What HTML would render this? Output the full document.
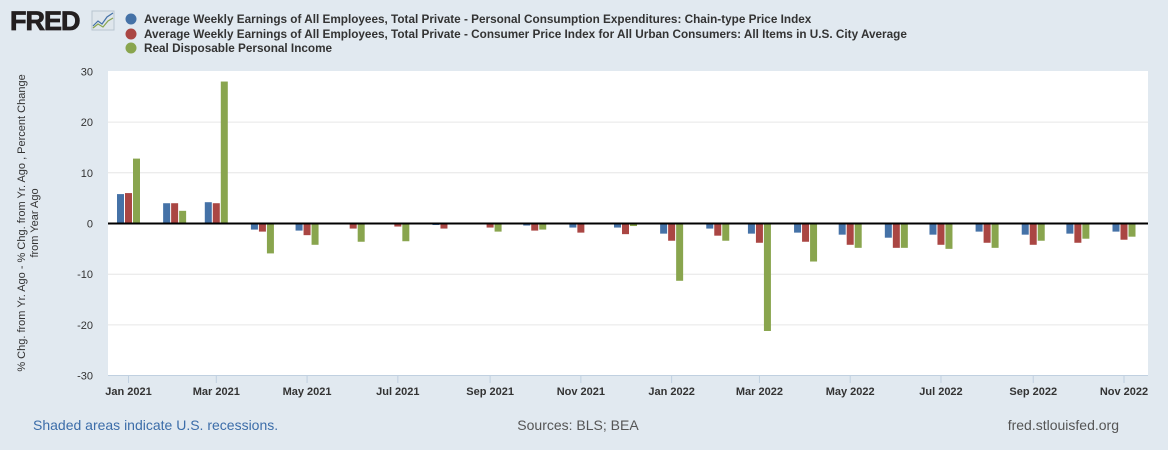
<!DOCTYPE html>
<html><head><meta charset="utf-8"><style>
body{margin:0;background:#e1e9f0;font-family:"Liberation Sans",sans-serif;}
</style></head><body>
<svg width="1168" height="450" xmlns="http://www.w3.org/2000/svg" style="display:block">
<rect width="1168" height="450" fill="#e1e9f0"/>
<g>
<text x="10" y="30" font-size="27" font-weight="bold" fill="#231f20" font-family="Liberation Sans" letter-spacing="-1" stroke="#231f20" stroke-width="0.8">FRED</text>
<rect x="92" y="11" width="22" height="19" fill="#dfe6ec" stroke="#b9c5cf"/>
<polyline points="93,26 98,21 102,24 107,17 113,13" fill="none" stroke="#4572a7" stroke-width="1.2"/>
<polyline points="93,28 98,24 103,27 108,21 113,18" fill="none" stroke="#89a54e" stroke-width="1.2"/>
</g>
<g font-size="11.75" font-weight="bold" fill="#333">
<g><circle cx="131" cy="19" r="5.5" fill="#4572a7"/><text x="144" y="23">Average Weekly Earnings of All Employees, Total Private - Personal Consumption Expenditures: Chain-type Price Index</text></g>
<g><circle cx="131" cy="34" r="5.5" fill="#aa4643"/><text x="144" y="38">Average Weekly Earnings of All Employees, Total Private - Consumer Price Index for All Urban Consumers: All Items in U.S. City Average</text></g>
<g><circle cx="131" cy="48" r="5.5" fill="#89a54e"/><text x="144" y="52">Real Disposable Personal Income</text></g>
</g>
<rect x="108" y="71" width="1040" height="304" fill="#fff"/>
<g id="grid"></g>
<g id="yticks" font-size="11" fill="#333" text-anchor="end"></g>
<g id="xticks" font-size="11" fill="#333" text-anchor="middle"></g>
<g id="bars"></g>
<line id="zero" x1="108" x2="1148" stroke="#000" stroke-width="2"/>
<text transform="translate(25,223) rotate(-90)" font-size="11" fill="#333" text-anchor="middle"><tspan x="0" dy="0">% Chg. from Yr. Ago - % Chg. from Yr. Ago , Percent Change</tspan><tspan x="0" dy="13">from Year Ago</tspan></text>
<text x="33" y="430" font-size="14" fill="#3c6da9">Shaded areas indicate U.S. recessions.</text>
<text x="578" y="430" font-size="14" fill="#555" text-anchor="middle">Sources: BLS; BEA</text>
<text x="1119" y="430" font-size="14" fill="#555" text-anchor="end">fred.stlouisfed.org</text>
</svg>
<script>
const months = ["2021-01","2021-02","2021-03","2021-04","2021-05","2021-06","2021-07","2021-08","2021-09","2021-10","2021-11","2021-12","2022-01","2022-02","2022-03","2022-04","2022-05","2022-06","2022-07","2022-08","2022-09","2022-10","2022-11"];
const pceValues = [5.8,4.0,4.2,-1.2,-1.4,0,0,-0.3,0,-0.4,-0.8,-0.8,-2.0,-1.0,-2.0,-1.8,-2.2,-2.8,-2.2,-1.6,-2.2,-2.0,-1.6];
const cpiValues = [6.0,4.0,4.0,-1.6,-2.3,-1.0,-0.6,-1.0,-0.8,-1.4,-1.8,-2.1,-3.4,-2.4,-3.8,-3.6,-4.2,-4.8,-4.2,-3.8,-4.2,-3.8,-3.2];
const rdpiValues = [12.8,2.5,28.0,-5.9,-4.2,-3.6,-3.5,0,-1.6,-1.2,0,-0.5,-11.3,-3.4,-21.2,-7.5,-4.8,-4.8,-5.0,-4.8,-3.4,-3.0,-2.6];
const yTicks = [30,20,10,0,-10,-20,-30];
const xTickLabels = ["Jan 2021","Mar 2021","May 2021","Jul 2021","Sep 2021","Nov 2021","Jan 2022","Mar 2022","May 2022","Jul 2022","Sep 2022","Nov 2022"];
const xTickDates = ["2021-01","2021-03","2021-05","2021-07","2021-09","2021-11","2022-01","2022-03","2022-05","2022-07","2022-09","2022-11"];
const NS="http://www.w3.org/2000/svg";
const t0=Date.UTC(2021,0,1), t1=Date.UTC(2022,10,1);
function xs(m){const [y,mo]=m.split("-").map(Number);const t=Date.UTC(y,mo-1,1);return 128.5+(t-t0)/(t1-t0)*(1124-128.5);}
function ys(v){return 223.5-v*5.07;}
function mk(tag,attrs,parent){const e=document.createElementNS(NS,tag);for(const k in attrs)e.setAttribute(k,attrs[k]);parent.appendChild(e);return e;}
const grid=document.getElementById("grid"),yt=document.getElementById("yticks"),xt=document.getElementById("xticks"),bars=document.getElementById("bars");
yTicks.forEach(v=>{
  if(v!==30&&v!==-30){const l=mk("line",{x1:108,x2:1148,y1:ys(v),y2:ys(v),stroke:"#e6e6e6"},grid);
  
  }
  const t=mk("text",{x:93,y:ys(v)+4},yt);t.textContent=v;
  
  
});
mk("line",{x1:108,x2:1148,y1:375.5,y2:375.5,stroke:"#c0d0e0"},xt);
xTickDates.forEach((d,i)=>{
  const x=xs(d);
  mk("line",{x1:x,x2:x,y1:375,y2:383,stroke:"#c0d0e0"},xt);
  const t=mk("text",{x:x,y:395,"font-weight":"bold"},xt);t.textContent=xTickLabels[i];
  
  
});
const series=[[pceValues,"#4572a7",-11.5,"pce"],[cpiValues,"#aa4643",-3.5,"cpi"],[rdpiValues,"#89a54e",4.5,"rdpi"]];
series.forEach(([vals,col,off,nm])=>{
  vals.forEach((v,i)=>{
    if(v===0)return;
    const x=xs(months[i])+off, y0=ys(0), y1=ys(v);
    const r=mk("rect",{x:x,y:Math.min(y0,y1),width:7,height:Math.abs(y1-y0),fill:col},bars);
    
    
  });
});
const z=document.getElementById("zero");z.setAttribute("y1",ys(0));z.setAttribute("y2",ys(0));
</script>
</body></html>
